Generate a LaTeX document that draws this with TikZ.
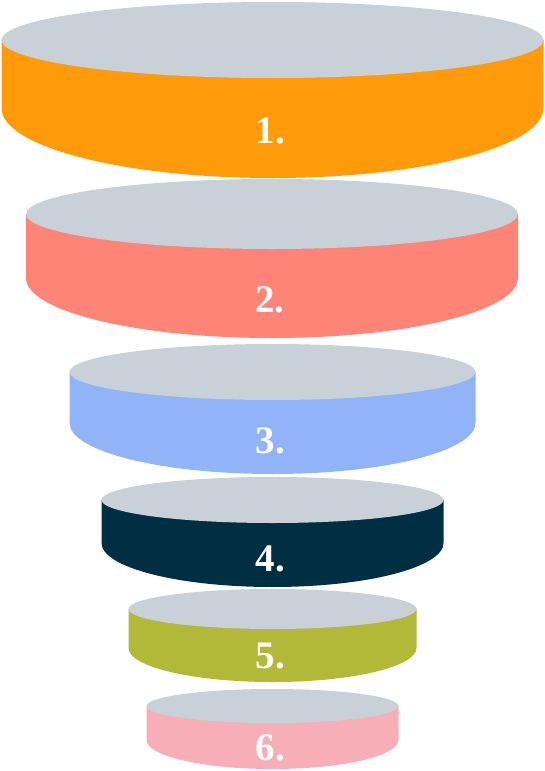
\documentclass[tikz,border=0pt]{standalone}
\usepackage{fontspec}
\setmainfont{Liberation Serif}
\definecolor{topgray}{HTML}{C8D0D8}
\definecolor{cA}{HTML}{FF9B0A}
\definecolor{cB}{HTML}{FF8478}
\definecolor{cC}{HTML}{91B4F9}
\definecolor{cD}{HTML}{002E42}
\definecolor{cE}{HTML}{B2B837}
\definecolor{cF}{HTML}{F7AEB7}
% #1 cx, #2 top centre y, #3 rx, #4 top ry, #5 straight end y, #6 bottom ry, #7 colour, #8 number, #9 baseline y
\newcommand\funneldisc[9]{%
  \fill[#7] (#1-#3,-#2) -- (#1-#3,-#5)
     arc[start angle=180,end angle=360,x radius=#3,y radius=#6]
     -- (#1+#3,-#2) -- cycle;
  \fill[topgray] (#1,-#2) ellipse[x radius=#3,y radius=#4];
  \node[lbl] (l#8) at (#1-2,-#9) {#8.};
}
\begin{document}
\begin{tikzpicture}[x=1pt,y=1pt,
  lbl/.style={anchor=base,text=white,font=\bfseries\fontsize{39}{39}\selectfont,inner sep=0pt}]
\useasboundingbox (0,0) rectangle (544,-771);
\funneldisc{272.5}{40}{271}{38}{108}{70}{cA}{1}{143}
\funneldisc{272}{214}{246}{35}{278}{60}{cB}{2}{312}
\funneldisc{272.5}{372}{203}{28}{423}{51}{cC}{3}{453}
\funneldisc{272.5}{500}{171}{23}{543}{44}{cD}{4}{571}
\funneldisc{272.5}{609}{144}{20}{648}{34}{cE}{5}{668}
\funneldisc{272.5}{706}{126}{17}{740}{29}{cF}{6}{760}
\end{tikzpicture}
\end{document}
